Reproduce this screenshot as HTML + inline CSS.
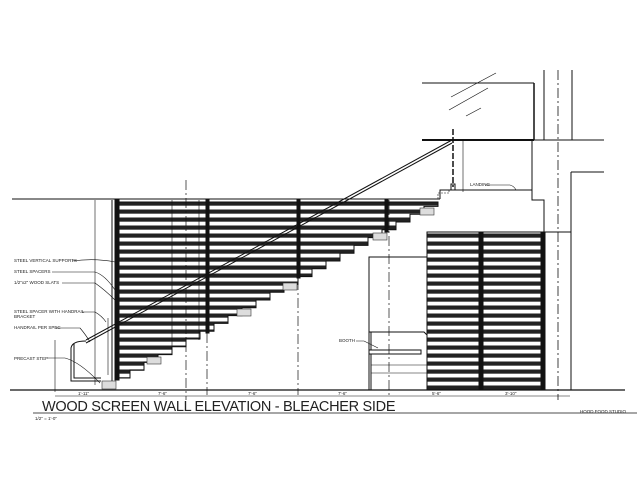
<!DOCTYPE html>
<html><head><meta charset="utf-8"><style>
html,body{margin:0;padding:0;background:#fff;}
svg{display:block;}
text{font-family:"Liberation Sans",sans-serif;fill:#222;}
</style></head><body>
<svg width="644" height="497" viewBox="0 0 644 497" xmlns="http://www.w3.org/2000/svg">
<defs>
<pattern id="sl" x="0" y="202" width="10" height="8" patternUnits="userSpaceOnUse">
<rect x="0" y="0" width="10" height="3.8" fill="#222"/>
<rect x="0" y="3.8" width="10" height="4.2" fill="#fff"/>
<line x1="0" y1="7.5" x2="10" y2="7.5" stroke="#444" stroke-width="0.6"/>
</pattern>
<pattern id="sl2" x="0" y="234" width="10" height="8" patternUnits="userSpaceOnUse">
<rect x="0" y="0" width="10" height="3.8" fill="#222"/>
<rect x="0" y="3.8" width="10" height="4.2" fill="#fff"/>
<line x1="0" y1="7.5" x2="10" y2="7.5" stroke="#444" stroke-width="0.6"/>
</pattern>
</defs>
<rect width="644" height="497" fill="#fff"/>
<g stroke="#111" fill="none" stroke-width="1">
<line x1="12" y1="199" x2="440" y2="199"/>
<polygon fill="url(#sl)" stroke="#111" points="116,202 438,202 438,206.4 424,206.4 424,214.2 410,214.2 410,222 396,222 396,229.8 382,229.8 382,237.6 368,237.6 368,245.4 354,245.4 354,253.2 340,253.2 340,261 326,261 326,268.8 312,268.8 312,276.6 298,276.6 298,284.4 284,284.4 284,292.2 270,292.2 270,300 256,300 256,307.8 242,307.8 242,315.6 228,315.6 228,323.4 214,323.4 214,331.2 200,331.2 200,339 186,339 186,346.8 172,346.8 172,354.6 158,354.6 158,362.4 144,362.4 144,370.2 130,370.2 130,378 116,378"/>
<rect x="115" y="200" width="4" height="180" fill="#111"/>
<rect x="206" y="200" width="3" height="133" fill="#111"/>
<rect x="297" y="200" width="3" height="78" fill="#111"/>
<rect x="385" y="200" width="3" height="32" fill="#111"/>
<line x1="112" y1="200" x2="112" y2="382"/>
<line x1="172" y1="200" x2="172" y2="355" stroke-width="0.6"/>
<line x1="186" y1="180" x2="186" y2="400" stroke-dasharray="10,3,2,3" stroke-width="0.7"/>
<line x1="199" y1="200" x2="199" y2="340" stroke-width="0.6"/>
<line x1="298" y1="280" x2="298" y2="395" stroke-dasharray="10,3,2,3" stroke-width="0.7"/>
<line x1="207" y1="333" x2="207" y2="395" stroke-dasharray="10,3,2,3" stroke-width="0.7"/>
<line x1="389" y1="200" x2="389" y2="395" stroke-dasharray="10,3,2,3" stroke-width="0.7"/>
<g fill="#ddd" stroke="#333" stroke-width="0.6">
<rect x="147" y="357" width="14" height="7"/><rect x="237" y="309" width="14" height="7"/><rect x="283" y="283" width="14" height="7"/><rect x="373" y="233" width="14" height="7"/><rect x="420" y="208" width="14" height="7"/><rect x="102" y="381" width="14" height="8"/>
</g>
<line x1="86" y1="340" x2="452" y2="140" stroke-width="1"/>
<line x1="86" y1="343" x2="452" y2="143" stroke-width="1"/>
<path d="M86 341 Q72 341 71 348 L71 381 L101 381"/>
<path d="M74 344 L74 378 L101 378"/>
<line x1="108" y1="318" x2="108" y2="375" stroke-width="0.6"/>
<line x1="422" y1="83" x2="534" y2="83"/>
<line x1="534" y1="83" x2="534" y2="140" stroke-width="1.5"/>
<line x1="422" y1="140" x2="534" y2="140" stroke-width="2"/>
<line x1="534" y1="140" x2="604" y2="140"/>
<line x1="544" y1="70" x2="544" y2="140"/>
<line x1="572" y1="70" x2="572" y2="140"/>
<line x1="558" y1="70" x2="558" y2="400" stroke-dasharray="10,3,2,3" stroke-width="0.8"/>
<line x1="571" y1="172" x2="604" y2="172"/>
<line x1="571" y1="172" x2="571" y2="390"/>
<line x1="451" y1="97" x2="496" y2="73" stroke-width="0.7"/>
<line x1="449" y1="110" x2="488" y2="88" stroke-width="0.7"/>
<line x1="466" y1="116" x2="481" y2="108" stroke-width="0.7"/>
<line x1="453" y1="129" x2="453" y2="187" stroke-width="1.5" stroke-dasharray="6,2"/>
<rect x="451" y="184" width="4" height="6"/>
<line x1="463" y1="139" x2="463" y2="192" stroke-width="0.6"/>
<polyline points="440,199 440,190 532,190 532,140"/>
<polyline points="532,190 532,200 544,200 544,232 571,232"/>
<path d="M438 199 L438 193 L449 193 L449 190" stroke-dasharray="2,1" stroke-width="0.6"/>
<path d="M485 185 L510 185 Q514 186 516 190" stroke-width="0.6"/>
<rect x="427" y="232" width="116" height="158" fill="url(#sl2)"/>
<rect x="479" y="232" width="4" height="158" fill="#111"/>
<rect x="541" y="232" width="4" height="158" fill="#111"/>
<polyline points="369,390 369,257 427,257"/>
<path d="M369 332 L424 332 L427 335"/>
<rect x="369" y="350" width="52" height="4"/>
<line x1="371" y1="354" x2="371" y2="390"/>
<line x1="371" y1="365" x2="427" y2="365" stroke-width="0.6"/>
<line x1="371" y1="373" x2="427" y2="373" stroke-width="0.6"/>
<line x1="371" y1="332" x2="371" y2="350"/>
<path d="M356 341 L364 341 L378 348" stroke-width="0.6"/>
<line x1="10" y1="390" x2="625" y2="390" stroke-width="1.2"/>
<line x1="55" y1="396" x2="570" y2="396" stroke-width="0.6"/>
<line x1="33" y1="413" x2="637" y2="413" stroke-width="0.8"/>
<line x1="95" y1="200" x2="95" y2="385" stroke-width="0.6"/>
<line x1="55" y1="340" x2="55" y2="392" stroke-width="0.6"/>
<g stroke-width="0.6">
<path d="M72 261 Q95 258 115 262"/><path d="M52 272 L95 272 Q105 275 115 290"/><path d="M62 283 L95 283 Q105 290 115 300"/>
<path d="M82 312 L95 312 Q102 316 106 322"/><path d="M56 328 L80 328 Q86 335 90 342"/><path d="M48 358 L65 358 Q80 362 100 383"/>
</g>
</g>
<g font-size="4.5">
<text x="14" y="262">STEEL VERTICAL SUPPORTS</text>
<text x="14" y="273">STEEL SPACERS</text>
<text x="14" y="284">1/2"x2" WOOD SLATS</text>
<text x="14" y="313">STEEL SPACER WITH HANDRAIL</text>
<text x="14" y="318">BRACKET</text>
<text x="14" y="329">HANDRAIL PER SPEC</text>
<text x="14" y="360">PRECAST STEP</text>
<text x="339" y="342">BOOTH</text>
<text x="470" y="186">LANDING</text>
<text x="78" y="395">1'-11"</text>
<text x="158" y="395">7'-6"</text>
<text x="248" y="395">7'-6"</text>
<text x="338" y="395">7'-6"</text>
<text x="432" y="395">5'-6"</text>
<text x="505" y="395">3'-10"</text>
<text x="35" y="420">1/2" = 1'-0"</text>
<text x="580" y="413">HOOD FOOD STUDIO</text>
</g>
<text x="42" y="411" font-size="14.5" letter-spacing="-0.3">WOOD SCREEN WALL ELEVATION - BLEACHER SIDE</text>
</svg>
</body></html>
